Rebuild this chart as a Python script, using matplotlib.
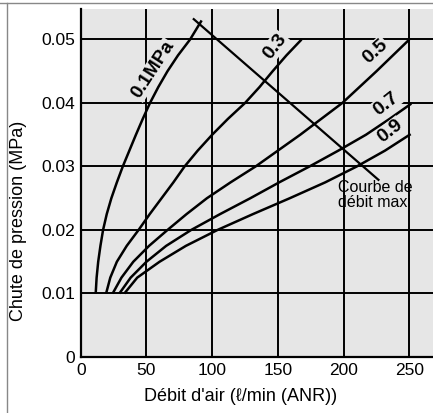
import matplotlib
matplotlib.use("Agg")
import matplotlib.pyplot as plt
from matplotlib.lines import Line2D

plt.rcParams['font.family'] = ['Liberation Sans', 'DejaVu Sans']

# pressure drop curves per inlet pressure (flow l/min, drop MPa)
flow_01 = [11.4, 12.1, 13.3, 15.0, 17.0, 19.8, 23.3, 27.5, 32.0, 37.0, 42.0, 47.2,
           52.7, 59.0, 66.0, 74.0, 83.2, 92.0]
drop_01 = [0.010, 0.0125, 0.015, 0.0175, 0.020, 0.0225, 0.025, 0.0275, 0.030, 0.0325,
           0.035, 0.0375, 0.040, 0.0425, 0.045, 0.0475, 0.050, 0.0530]

flow_03 = [19.3, 22.5, 27.5, 35, 44, 52.5, 61.5, 70.5, 79, 89, 100, 112, 125, 136,
           146, 156.5, 168]
drop_03 = [0.010, 0.0125, 0.015, 0.0175, 0.020, 0.0225, 0.025, 0.0275, 0.030, 0.0325,
           0.035, 0.0375, 0.040, 0.0425, 0.045, 0.0475, 0.050]

flow_05 = [24.3, 31, 40, 52, 66, 80.5, 96, 114, 133, 150, 167, 183, 199, 212, 225,
           237.5, 250]
drop_05 = [0.010, 0.0125, 0.015, 0.0175, 0.020, 0.0225, 0.025, 0.0275, 0.030, 0.0325,
           0.035, 0.0375, 0.040, 0.0425, 0.045, 0.0475, 0.050]

flow_07 = [29.4, 38, 50, 65, 84, 106, 129, 151, 174, 196, 217, 235, 251.5]
drop_07 = [0.010, 0.0125, 0.015, 0.0175, 0.020, 0.0225, 0.025, 0.0275, 0.030, 0.0325,
           0.035, 0.0375, 0.0399]

flow_09 = [33.2, 43, 60, 80, 104, 131, 159, 186, 210, 231.5, 251]
drop_09 = [0.010, 0.0125, 0.015, 0.0175, 0.020, 0.0225, 0.025, 0.0275, 0.030, 0.0325,
           0.0351]

# max flow line
max_flow = [86, 226.5]
max_drop = [0.0532, 0.0279]

x_ticks = [0, 50, 100, 150, 200, 250]
y_ticks = [0, 0.01, 0.02, 0.03, 0.04, 0.05]
y_tick_labels = ["0", "0.01", "0.02", "0.03", "0.04", "0.05"]

bg = "#e6e6e6"

fig = plt.figure(figsize=(4.33, 4.13), dpi=100)
ax = fig.add_axes([0.1864, 0.1356, 0.8136, 0.8426])
ax.set_facecolor(bg)
ax.set_xlim(0, 268)
ax.set_ylim(0, 0.0548)

for xt in x_ticks[1:]:
    ax.axvline(xt, color="black", lw=1.4, zorder=1)
for yt in y_ticks[1:]:
    ax.axhline(yt, color="black", lw=1.4, zorder=1)

curves = [(flow_01, drop_01), (flow_03, drop_03), (flow_05, drop_05),
          (flow_07, drop_07), (flow_09, drop_09)]
for fx, dy in curves:
    ax.plot(fx, dy, color="black", lw=1.8, zorder=3, solid_capstyle="butt",
            solid_joinstyle="round")
ax.plot(max_flow, max_drop, color="black", lw=1.6, zorder=3)

lbl = dict(fontweight="bold", ha="center", va="center", zorder=4,
           bbox=dict(boxstyle="square,pad=0.05", fc=bg, ec="none"))
ax.text(55, 0.0452, "0.1MPa", rotation=57, fontsize=13.5, **lbl)
ax.text(147.8, 0.0489, "0.3", rotation=52, fontsize=14, **lbl)
ax.text(224, 0.0481, "0.5", rotation=42, fontsize=14, **lbl)
ax.text(232.5, 0.0399, "0.7", rotation=38, fontsize=14, **lbl)
ax.text(235.5, 0.0355, "0.9", rotation=38, fontsize=14, **lbl)

ax.text(196, 0.0278, "Courbe de\ndébit maxi", fontsize=11.5, ha="left", va="top",
        linespacing=1.0, zorder=4)

ax.set_xticks(x_ticks)
ax.set_yticks(y_ticks)
ax.set_yticklabels(y_tick_labels)
ax.tick_params(length=0, labelsize=12.5, pad=4)
for s in ["top", "right"]:
    ax.spines[s].set_visible(False)
for s in ["left", "bottom"]:
    ax.spines[s].set_linewidth(1.6)

fig.text(0.555, 0.04, "Débit d'air (ℓ/min (ANR))", fontsize=13, ha="center", va="center")
fig.text(0.042, 0.465, "Chute de pression (MPa)", fontsize=13, rotation=90,
         ha="center", va="center")

# outer frame
fig.add_artist(Line2D([0, 1], [0.993, 0.993], color="#888888", lw=1))
fig.add_artist(Line2D([0.016, 0.016], [0, 0.993], color="#888888", lw=1))

fig.savefig("out.png", dpi=100)
